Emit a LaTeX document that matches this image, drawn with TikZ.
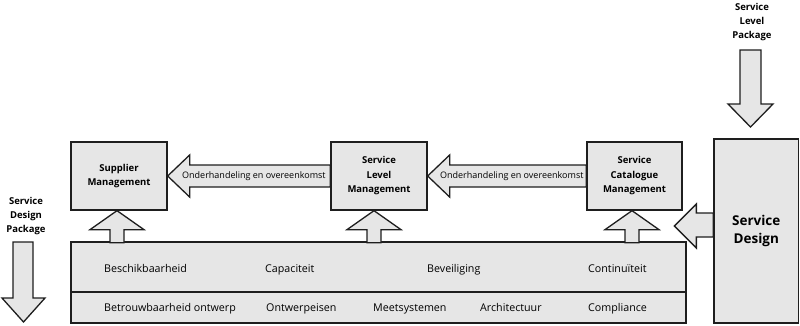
\documentclass[tikz,border=0pt]{standalone}
\usepackage{fontspec}
\setmainfont{Open Sans}
\usetikzlibrary{calc}
\definecolor{boxfill}{RGB}{230,230,230}
\definecolor{linec}{RGB}{30,30,30}
\begin{document}
\begin{tikzpicture}[x=1pt,y=-1pt,
  box/.style={draw=linec,fill=boxfill,line width=1.3pt,inner sep=0pt,align=center,
    font=\fontsize{9.5}{14.5}\selectfont\bfseries},
  blockarrow/.style={draw=linec,fill=boxfill,line width=1.3pt,line join=miter},
  lbl/.style={font=\fontsize{10.7}{12}\selectfont,inner sep=0pt,anchor=base west},
  arrlbl/.style={font=\fontsize{9}{11}\selectfont,inner sep=0pt},
  pkglbl/.style={font=\fontsize{9.5}{14}\selectfont\bfseries,align=center,inner sep=0pt}]
\useasboundingbox (0,0) rectangle (800,325);

% nodes (positions)
\node[box,minimum width=96pt,minimum height=68pt] (sup) at (119,176) {Supplier\\Management};
\node[box,minimum width=96pt,minimum height=68pt] (slm) at (379,176) {Service\\Level\\Management};
\node[box,minimum width=95pt,minimum height=68pt] (scm) at (634.5,176) {Service\\Catalogue\\Management};
\node[box,minimum width=84.5pt,minimum height=184pt,font=\fontsize{13.5}{18}\selectfont\bfseries] (sd) at (756.25,231) {Service\\Design};
\node[box,minimum width=615pt,minimum height=50pt] (base) at (378.5,267) {};
\node[box,minimum width=615pt,minimum height=31pt] (base2) at (378.5,307.5) {};
\node[pkglbl] (slp) at (752,22) {Service\\Level\\Package};
\node[pkglbl] (sdp) at (26,216) {Service\\Design\\Package};
\coordinate (sdpstart) at (13,242);
\coordinate (slpstart) at (740,50);

% horizontal block arrows
\draw[blockarrow] (sup.east) -- ++(22,-21) -- ++(0,10) -- ($(slm.west)+(0,-11)$)
  -- ($(slm.west)+(0,11)$) -- ($(sup.east)+(22,11)$) -- ++(0,10) -- cycle;
\path (sup.east) -- (slm.west) node[arrlbl,pos=0.53] {Onderhandeling en overeenkomst};
\draw[blockarrow] (slm.east) -- ++(22,-21) -- ++(0,10) -- ($(scm.west)+(0,-11)$)
  -- ($(scm.west)+(0,11)$) -- ($(slm.east)+(22,11)$) -- ++(0,10) -- cycle;
\path (slm.east) -- (scm.west) node[arrlbl,pos=0.53] {Onderhandeling en overeenkomst};

% vertical block arrows from base to boxes
\foreach \b/\dx in {sup/-2, slm/-5, scm/-2.5}{
  \draw[blockarrow] ($(\b.south)+(\dx,0)$) -- ++(27,19) -- ++(-20,0) -- ++(0,13)
    -- ++(-14,0) -- ++(0,-13) -- ++(-20,0) -- cycle;
}

% Service Design arrow to the left
\draw[blockarrow] ($(sd.west)+(-39,-5)$) coordinate (sdtip) -- ++(22,-22) -- ++(0,9) -- ++(17,0)
  -- ++(0,24) -- ++(-17,0) -- ++(0,11) -- cycle;

% Service Level Package arrow down
\draw[blockarrow] (slpstart) -- ++(0,54) -- ++(-12,0) -- ++(22.5,23) -- ++(22.5,-23)
  -- ++(-12,0) -- ++(0,-54) -- cycle;

% Service Design Package arrow down
\draw[blockarrow] (sdpstart) -- ++(0,56) -- ++(-11,0) -- ++(21.5,24) -- ++(21.5,-24)
  -- ++(-12,0) -- ++(0,-56) -- cycle;

% redraw boxes on top
\node[box,minimum width=96pt,minimum height=68pt] at (sup) {Supplier\\Management};
\node[box,minimum width=96pt,minimum height=68pt] at (slm) {Service\\Level\\Management};
\node[box,minimum width=95pt,minimum height=68pt] at (scm) {Service\\Catalogue\\Management};
\node[box,minimum width=84.5pt,minimum height=184pt,font=\fontsize{13.5}{18}\selectfont\bfseries] at (sd) {Service\\Design};

% texts in base
\node[lbl] (t1) at (104,272) {Beschikbaarheid};
\node[lbl] (t2) at (265,272) {Capaciteit};
\node[lbl] (t3) at (427,272) {Beveiliging};
\node[lbl] (t4) at (588,272) {Continuïteit};
\node[lbl] (u1) at (104,311) {Betrouwbaarheid ontwerp};
\node[lbl] (u2) at (266,311) {Ontwerpeisen};
\node[lbl] (u3) at (373,311) {Meetsystemen};
\node[lbl] (u4) at (480,311) {Architectuur};
\node[lbl] (u5) at (588,311) {Compliance};
\end{tikzpicture}
\end{document}
